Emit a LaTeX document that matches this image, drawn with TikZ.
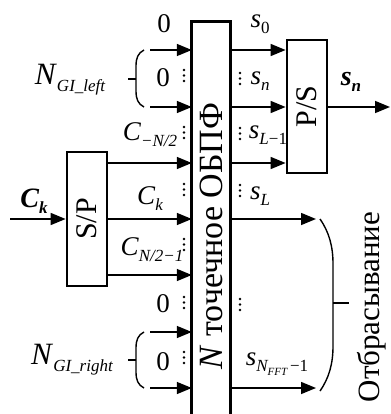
\documentclass[tikz,border=0pt]{standalone}
\usepackage{fontspec}
\setmainfont{Liberation Serif}
\usetikzlibrary{arrows.meta}
\newcommand{\vi}[1]{\textit{#1}}
\newcommand{\sbx}[1]{\raisebox{-0.22em}{\fontsize{17}{17}\selectfont\itshape #1}}
\newcommand{\ssbx}[1]{\raisebox{-0.2em}{\fontsize{11}{11}\selectfont\itshape #1}}
\newcommand{\mydots}[2]{\fill (#1,#2) circle (1.4) (#1,#2+5.5) circle (1.4) (#1,#2+11) circle (1.4);}
\begin{document}
\begin{tikzpicture}[x=1pt,y=-1pt,
  box/.style={draw, line width=2.8pt, inner sep=0pt},
  arr/.style={line width=1.5pt, -{Triangle[length=15pt,width=12pt]}},
  lbl/.style={inner sep=0pt, font=\fontsize{27}{29}\selectfont},
  boxlbl/.style={inner sep=0pt, rotate=90, font=\fontsize{30}{32}\selectfont},
  brace/.style={line width=1.4pt},
]
\useasboundingbox (0,0) rectangle (390,414);
% boxes
\node[box, minimum width=40pt, minimum height=134pt] (sp) at (87,219) {};
\node[boxlbl] (splbl) at (sp) {S/P};
\node[box, minimum width=40pt, minimum height=133pt] (ps) at (307,106.5) {};
\node[boxlbl] (pslbl) at (ps) {P/S};
\node[inner sep=0pt, minimum width=38pt, minimum height=392pt] (ifft) at (211,218) {};
\draw[line width=2.8pt] (ifft.south west) |- (ifft.north east) -- (ifft.south east);
\node[boxlbl, font=\fontsize{34}{36}\selectfont] (ifftlbl) at (211,236) {\vi{N} точечное ОБПФ};
% zero inputs
\coordinate (z1) at (150,50);
\coordinate (z2) at (150,107);
\coordinate (z3) at (150,332);
\coordinate (z4) at (150,388);
\foreach \c in {z1,z2,z3,z4} {\draw[arr] (\c) -- (\c -| ifft.west);}
% S/P outputs
\foreach \yy in {163,219,275} {\draw[arr] (sp.east |- 0,\yy) -- (ifft.west |- 0,\yy);}
% input
\coordinate (cin) at (10,219);
\draw[arr] (cin) -- (cin -| sp.west);
% IFFT outputs to P/S
\foreach \yy in {50,107,163} {\draw[arr] (ifft.east |- 0,\yy) -- (ps.west |- 0,\yy);}
\coordinate (out) at (390,107);
\draw[arr] (ps.east |- out) -- (out);
% discarded outputs
\coordinate (d1) at (316,219);
\coordinate (d2) at (316,388);
\draw[arr] (ifft.east |- d1) -- (d1);
\draw[arr] (ifft.east |- d2) -- (d2);
% right brace
\draw[brace] (320,219) .. controls (329,232) and (333,246) .. (333,264) -- (333,346) .. controls (333,364) and (329,378) .. (320,391);
\draw[brace] (333,303) -- (349,303);
% left braces
\draw[brace] (144,50) .. controls (138,53) and (136,58) .. (136,66) -- (136,91) .. controls (136,99) and (138,104) .. (144,107);
\draw[brace] (128,79) -- (136,79);
\draw[brace] (144,332) .. controls (138,335) and (136,340) .. (136,348) -- (136,372) .. controls (136,380) and (138,385) .. (144,388);
\draw[brace] (128,360) -- (136,360);
% dots
\mydots{184}{70}
\mydots{184}{127}
\mydots{184}{184}
\mydots{184}{239}
\mydots{184}{297}
\mydots{184}{352}
\mydots{240}{73}
\mydots{240}{128}
\mydots{240}{185}
\mydots{240}{299}
% labels
\node[lbl] (l0a) at (164,24) {0};
\node[lbl] (l0b) at (163,78) {0};
\node[lbl] (l0c) at (163,304) {0};
\node[lbl] (l0d) at (163,362) {0};
\node[lbl, font=\fontsize{31}{31}\selectfont] (ngl) at (70,80) {\vi{N}\sbx{GI\_left}};
\node[lbl, font=\fontsize{31}{31}\selectfont] (ngr) at (72,360) {\vi{N}\sbx{GI\_right}};
\node[lbl] (cm) at (150,135) {\vi{C}\sbx{−N/2}};
\node[lbl] (ck) at (150,199) {\vi{C}\sbx{k}};
\node[lbl] (cp) at (152,250) {\vi{C}\sbx{N/2−1}};
\node[lbl, font=\fontsize{28}{30}\selectfont\bfseries] (ckin) at (34,201) {\vi{C}\sbx{\bfseries k}};
\node[lbl] (s0) at (260,24) {\vi{s}\sbx{\upshape 0}};
\node[lbl] (sn) at (260,81) {\vi{s}\sbx{n}};
\node[lbl] (sl1) at (268,135) {\vi{s}\sbx{L\upshape−1}};
\node[lbl] (sl) at (260,196) {\vi{s}\sbx{L}};
\node[lbl] (sf) at (277,364) {\vi{s}\sbx{N\ssbx{FFT}\upshape\,−1}};
\node[lbl, font=\fontsize{28}{30}\selectfont\bfseries] (snout) at (351,82) {\vi{s}\sbx{\bfseries n}};
\node[lbl, rotate=90, font=\fontsize{31}{33}\selectfont] (otb) at (372,307) {Отбрасывание};
\end{tikzpicture}
\end{document}
